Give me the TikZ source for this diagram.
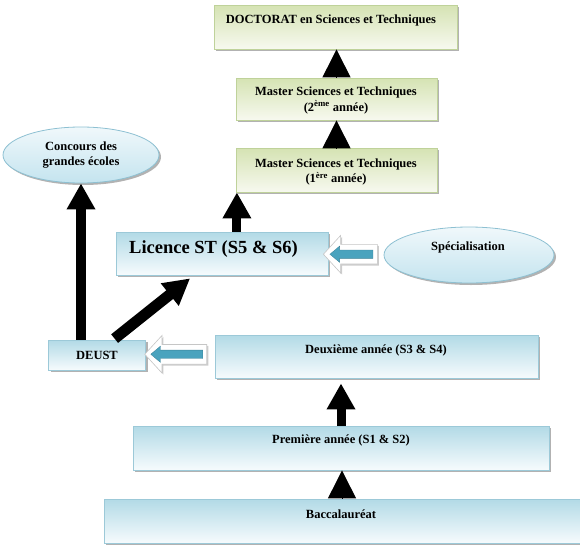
\documentclass[tikz,border=0pt]{standalone}
\usepackage{fontspec}
\setmainfont{Liberation Serif}
\usetikzlibrary{shapes.geometric,shapes.arrows,shadows,arrows.meta,calc}
\definecolor{btop}{HTML}{F6FBFD}
\definecolor{bbot}{HTML}{B2DAE6}
\definecolor{bborder}{HTML}{9CC9D8}
\definecolor{gtop}{HTML}{F7F9EF}
\definecolor{gbot}{HTML}{D5E3B3}
\definecolor{gborder}{HTML}{BFD29A}
\definecolor{etop}{HTML}{C4E4EF}
\definecolor{ebot}{HTML}{F0F8FB}
\definecolor{eborder}{HTML}{8DC0D2}
\definecolor{arrowblue}{HTML}{4AA3BE}
\tikzset{
  boxshadow/.style={drop shadow={shadow xshift=2pt,shadow yshift=-2pt,fill=black,opacity=0.3}},
  bluebox/.style={rectangle, draw=bborder, line width=0.8pt, top color=bbot, bottom color=btop, inner sep=0pt, boxshadow},
  greenbox/.style={rectangle, draw=gborder, line width=0.8pt, top color=gbot, bottom color=gtop, inner sep=0pt, boxshadow},
  blueell/.style={ellipse, draw=eborder, line width=0.8pt, top color=ebot, bottom color=etop, inner sep=0pt, boxshadow},
  txt/.style={font=\bfseries\fontsize{12.5}{15.5}\selectfont, align=center, inner sep=0pt},
  tri/.style={line width=1pt, -{Triangle[width=28pt,length=28pt]}},
  bigarrow/.style={line width=10pt, -{Triangle[width=27pt,length=26pt]}},
  outerarrow/.style={single arrow, draw=gray!45, line width=0.6pt, fill=white, inner xsep=0pt, inner ysep=9.5pt, single arrow head extend=9pt, shape border rotate=180, single arrow tip angle=95, drop shadow={shadow xshift=1.5pt,shadow yshift=-1.5pt,fill=black,opacity=0.2}},
  innerarrow/.style={single arrow, fill=arrowblue, draw=arrowblue!80!black, line width=0.3pt, inner xsep=0pt, inner ysep=4pt, shape border rotate=180, single arrow tip angle=80, single arrow head extend=4pt}
}
\begin{document}
\begin{tikzpicture}[x=1pt,y=-1pt]
\useasboundingbox (0,0) rectangle (580,546);
% boxes
\node[greenbox, minimum width=243pt, minimum height=44pt] (doc) at (335.5,27) {};
\node[greenbox, minimum width=201pt, minimum height=42pt] (m2) at (336.5,99) {};
\node[greenbox, minimum width=201pt, minimum height=44pt] (m1) at (336.5,170) {};
\node[blueell, minimum width=156pt, minimum height=56pt] (conc) at (81,155) {};
\node[bluebox, minimum width=212pt, minimum height=43pt] (lic) at (222,253.5) {};
\node[blueell, minimum width=170pt, minimum height=56pt] (spec) at (469,255) {};
\node[bluebox, minimum width=97pt, minimum height=30pt] (deust) at (97,355) {};
\node[bluebox, minimum width=323pt, minimum height=43pt] (deux) at (376.5,356.5) {};
\node[bluebox, minimum width=416pt, minimum height=44pt] (prem) at (341,448) {};
\node[bluebox, minimum width=476pt, minimum height=44pt] (bac) at (342,521) {};
% texts
\node[txt] (tdoc) at (331,20) {DOCTORAT en Sciences et Techniques};
\node[txt] (tm2) at (336,100.5) {Master Sciences et Techniques\\(2\textsuperscript{ème} année)};
\node[txt] (tm1) at (336,172) {Master Sciences et Techniques\\(1\textsuperscript{ère} année)};
\node[txt] (tconc) at (81,155) {Concours des\\grandes écoles};
\node[txt, font=\bfseries\fontsize{18.5}{20}\selectfont, anchor=west] (tlic) at (129,249) {Licence ST (S5 \& S6)};
\node[txt] (tspec) at (468,247) {Spécialisation};
\node[txt] (tdeust) at (97,355) {DEUST};
\node[txt] (tdeux) at (376,350) {Deuxième année (S3 \& S4)};
\node[txt] (tprem) at (341,440) {Première année (S1 \& S2)};
\node[txt] (tbac) at (341,514) {Baccalauréat};
% triangles
\draw[tri] (m2.north) -- (m2.north |- doc.south);
\draw[tri] (m1.north) -- (m1.north |- m2.south);
\draw[tri] (bac.north) -- (bac.north |- prem.south);
% big black arrows
\coordinate (licup) at ($(lic.north west)!0.57!(lic.north east)$);
\draw[bigarrow, line width=9pt] (licup) -- (licup |- m1.south);
\draw[bigarrow] (conc.south |- deust.north) -- (conc.south);
\coordinate (prem2) at (prem.north);
\draw[bigarrow, line width=9pt] (prem2) -- ($(prem2 |- deux.south)+(0,5)$);
\coordinate (dtail) at ($(deust.north west)!0.68!(deust.north east)+(0,-1)$);
\coordinate (dtip) at ($(lic.south west)!0.35!(lic.south east)+(0,3)$);
\draw[bigarrow, line width=11pt] (dtail) -- (dtip);
% block arrows
\node[outerarrow, minimum height=54pt] (ba1) at ($(lic.east)!0.48!(spec.west)$) {};
\node[innerarrow, minimum height=43pt] (bi1) at ($(ba1.center)+(-1,0)$) {};
\node[outerarrow, minimum height=62pt] (ba2) at ($(deust.east)!0.5!(deux.west)+(0,-1.5)$) {};
\node[innerarrow, minimum height=52pt] (bi2) at ($(ba2.center)+(-1,0)$) {};
\end{tikzpicture}
\end{document}
